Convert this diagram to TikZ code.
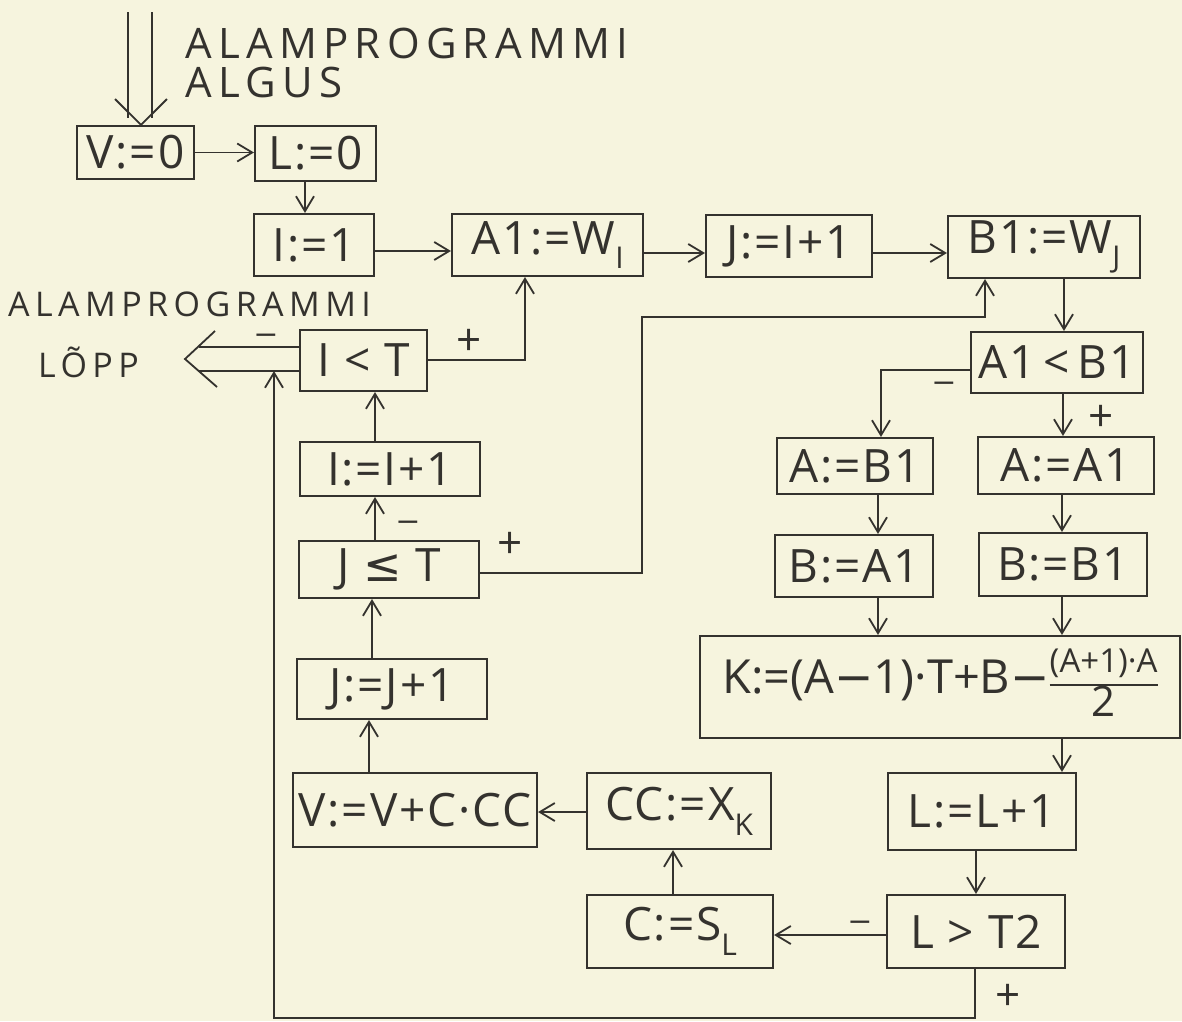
\documentclass[tikz,border=0pt]{standalone}
\usepackage{fontspec}
\usepackage{graphicx}
\setmainfont{Open Sans}
\newfontfamily\djv{DejaVu Sans}
\newfontfamily\spacedA[LetterSpace=15]{Open Sans}
\newfontfamily\spacedB[LetterSpace=16]{Open Sans}
\newfontfamily\boxf[LetterSpace=4]{Open Sans}
\usetikzlibrary{arrows.meta,calc}
\definecolor{paper}{RGB}{246,244,222}
\definecolor{ink}{RGB}{52,50,46}
\newcommand\sbx[1]{\raisebox{-0.32em}{\fontsize{30}{30}\selectfont #1}}
\newcommand\mns{{\djv\char"2212}}
\newcommand\smns{\scalebox{1.5}[1]{\djv\bfseries\fontsize{20}{20}\selectfont\char"2212}}
\newcommand\kfrac[2]{{\setlength\arrayrulewidth{1.6pt}\renewcommand\arraystretch{0.72}\begin{tabular}{@{}c@{}}{\fontsize{33}{37}\selectfont #1}\\\hline{\fontsize{42}{46}\selectfont #2}\end{tabular}}}
\begin{document}
\begin{tikzpicture}[x=1pt,y=-1pt,
  box/.style={draw=ink,line width=2.1pt,inner sep=0pt,text=ink,font=\boxf\fontsize{46}{50}\selectfont},
  arr/.style={draw=ink,line width=1.8pt,-{Straight Barb[length=15pt,width=18pt]}},
  ln/.style={draw=ink,line width=1.8pt},
  sgn/.style={text=ink,font=\fontsize{44}{44}\selectfont,inner sep=0pt},
  msgn/.style={text=ink,inner sep=0pt},
  ttl/.style={text=ink,anchor=base west,inner sep=0pt}]
\fill[paper] (0,0) rectangle (1182,1021);
\useasboundingbox (0,0) rectangle (1182,1021);

% titles
\node[ttl,font=\spacedA\fontsize{42}{46}\selectfont] (t1) at (185,58) {ALAMPROGRAMMI};
\node[ttl,font=\spacedA\fontsize{42}{46}\selectfont] (t2) at (185,97) {ALGUS};
\node[ttl,font=\spacedB\fontsize{34}{38}\selectfont] (t3) at (8,316) {ALAMPROGRAMMI};
\node[ttl,font=\spacedB\fontsize{34}{38}\selectfont] (t4) at (38,377) {LÕPP};

% boxes
\node[box,minimum width=117pt,minimum height=53pt] (v0) at (135.5,152.5) {V:=0};
\node[box,minimum width=121pt,minimum height=55pt] (l0) at (315.5,153.5) {L:=0};
\node[box,minimum width=120pt,minimum height=62pt] (i1) at (314,245) {I:=1};
\node[box,minimum width=191pt,minimum height=62pt] (a1) at (547.5,245) {A1:=W\sbx{I}};
\node[box,minimum width=166pt,minimum height=62pt] (j) at (789,246) {J:=I+1};
\node[box,minimum width=192pt,minimum height=62pt] (b1) at (1044,247) {B1:=W\sbx{J}};
\node[box,minimum width=172pt,minimum height=61pt] (cmp1) at (1057,362.5) {A1\,<\,B1};
\node[box,minimum width=156pt,minimum height=56pt] (ab1) at (855,466) {A:=B1};
\node[box,minimum width=176pt,minimum height=57pt] (aa1) at (1066,465.5) {A:=A1};
\node[box,minimum width=158pt,minimum height=62pt] (ba1) at (854,566) {B:=A1};
\node[box,minimum width=168pt,minimum height=63pt] (bb1) at (1063,564.5) {B:=B1};
\node[box,minimum width=480pt,minimum height=102pt,font=\fontsize{47}{52}\selectfont] (k) at (940,687) {K:=(A\mns1)·T+B\mns\kfrac{(A+1)·A}{2}};
\node[box,minimum width=188pt,minimum height=77pt] (l1) at (982,811.5) {L:=L+1};
\node[box,minimum width=178pt,minimum height=73pt] (lt2) at (976,931.5) {L > T2};
\node[box,minimum width=186pt,minimum height=73pt] (cs) at (680,931.5) {C:=S\sbx{L}};
\node[box,minimum width=184pt,minimum height=76pt] (cc) at (679,811) {CC:=X\sbx{K}};
\node[box,minimum width=244pt,minimum height=74pt] (vv) at (415,810) {V:=V+C·CC};
\node[box,minimum width=190pt,minimum height=60pt] (jj) at (392,689) {J:=J+1};
\node[box,minimum width=180pt,minimum height=57pt] (jt) at (389,569.5) {J {\djv ≤} T};
\node[box,minimum width=180pt,minimum height=54pt] (ii) at (390,469) {I:=I+1};
\node[box,minimum width=127pt,minimum height=61pt] (it) at (363.5,360.5) {I < T};

% entry double arrow
\coordinate (entry) at (140,12);
\draw[ln] (entry -| 128,0) -- (128,118) (entry -| 152,0) -- (152,118);
\draw[ln,line join=miter] (115,99) -- (v0.north -| 141,0) -- (167,99);

% connectors
\draw[arr] (v0.east) -- (v0.east -| l0.west);
\draw[arr] (l0.south -| 305,0) -- (i1.north -| 305,0);
\draw[arr] (i1.east |- 0,251) -- (a1.west |- 0,251);
\draw[arr] (a1.east |- 0,253) -- (j.west |- 0,253);
\draw[arr] (j.east |- 0,253) -- (b1.west |- 0,253);
\draw[arr] (b1.south -| 1064,0) -- (cmp1.north -| 1064,0);
\draw[arr] (cmp1.west |- 0,370) -| (ab1.north -| 881,0);
\draw[arr] (cmp1.south -| 1063,0) -- (aa1.north -| 1063,0);
\draw[arr] (ab1.south -| 878,0) -- (ba1.north -| 878,0);
\draw[arr] (aa1.south -| 1062,0) -- (bb1.north -| 1062,0);
\draw[arr] (ba1.south -| 878,0) -- (k.north -| 878,0);
\draw[arr] (bb1.south -| 1062,0) -- (k.north -| 1062,0);
\draw[arr] (k.south -| 1062,0) -- (l1.north -| 1062,0);
\draw[arr] (l1.south -| 976,0) -- (lt2.north -| 976,0);
\draw[arr] (lt2.west |- 0,935) -- (cs.east |- 0,935);
\draw[arr] (cs.north -| 673,0) -- (cc.south -| 673,0);
\draw[arr] (cc.west |- 0,812) -- (vv.east |- 0,812);
\draw[arr] (vv.north -| 369,0) -- (jj.south -| 369,0);
\draw[arr] (jj.north -| 372,0) -- (jt.south -| 372,0);
\draw[arr] (jt.north -| 375,0) -- (ii.south -| 375,0);
\draw[arr] (ii.north -| 375,0) -- (it.south -| 375,0);
\draw[arr] (jt.east |- 0,573) -- (642,573) -- (642,317) -| (b1.south -| 985,0);
\draw[arr] (it.east |- 0,360) -| (a1.south -| 525,0);

% exit double arrow
\coordinate (exit) at (185,359);
\draw[ln] (it.west |- 0,347) -- (199,347) (it.west |- 0,371) -- (199,371);
\draw[ln,line join=miter] (215,331) -- (exit) -- (217,387);

% return loop
\coordinate (join) at (274,371);
\draw[arr] (lt2.south -| 975,0) -- (975,1018) -- (274,1018) -- (join);

% signs
\node[msgn] (s1) at (266,338) {\smns};
\node[sgn] (s2) at (469,342) {+};
\node[msgn] (s3) at (944,386) {\smns};
\node[sgn] (s4) at (1101,418) {+};
\node[sgn] (s5) at (510,545) {+};
\node[msgn] (s6) at (408,525) {\smns};
\node[msgn] (s7) at (860,925) {\smns};
\node[sgn] (s8) at (1008,997) {+};
\end{tikzpicture}
\end{document}
